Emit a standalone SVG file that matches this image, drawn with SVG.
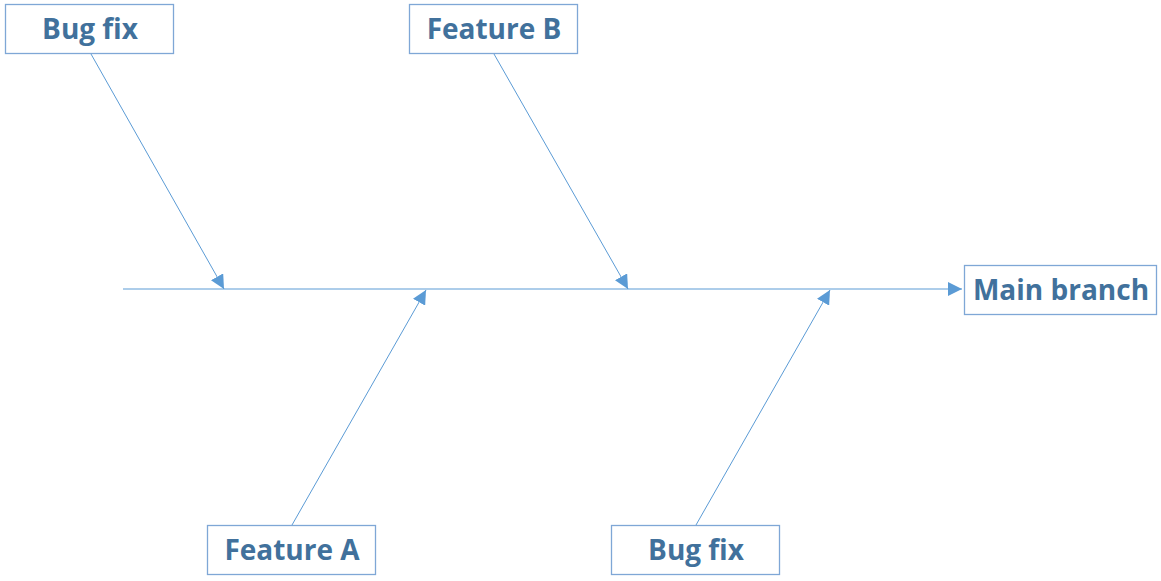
<svg xmlns="http://www.w3.org/2000/svg" width="1161" height="581" viewBox="0 0 1161 581">
<style>
.box{fill:#fff;stroke:#7FA7D6;stroke-width:1.3}
.lbl{font-family:"Open Sans","Liberation Sans",sans-serif;font-weight:bold;font-size:28px;fill:#41719C;text-anchor:middle}
.ln{stroke:#5B9BD5;stroke-width:1;fill:none;marker-end:url(#ah)}
</style>
<defs>
<marker id="ah" viewBox="0 0 10 10" refX="10" refY="5" markerWidth="14" markerHeight="14" markerUnits="userSpaceOnUse" orient="auto">
<path d="M0,0 L10,5 L0,10 z" fill="#5B9BD5"/>
</marker>
</defs>
<rect width="1161" height="581" fill="#fff"/>
<g id="connectors">
<line class="ln" x1="123" y1="289" x2="962" y2="289"/>
<line class="ln" x1="91" y1="54" x2="224" y2="289"/>
<line class="ln" x1="494" y1="54" x2="628" y2="289"/>
<line class="ln" x1="292" y1="525" x2="426" y2="290"/>
<line class="ln" x1="696" y1="525" x2="830" y2="290"/>
</g>
<g id="bugfix-top"><rect class="box" x="5.5" y="4.5" width="168" height="49"/><text class="lbl" x="90" y="39">Bug fix</text></g>
<g id="feature-b"><rect class="box" x="409.5" y="4.5" width="168" height="49"/><text class="lbl" x="494" y="39">Feature B</text></g>
<g id="main-branch"><rect class="box" x="964.5" y="265.5" width="192" height="49"/><text class="lbl" x="1061" y="300">Main branch</text></g>
<g id="feature-a"><rect class="box" x="207.5" y="525.5" width="168" height="49"/><text class="lbl" x="292" y="560">Feature A</text></g>
<g id="bugfix-bottom"><rect class="box" x="611.5" y="525.5" width="168" height="49"/><text class="lbl" x="696" y="560">Bug fix</text></g>
</svg>
